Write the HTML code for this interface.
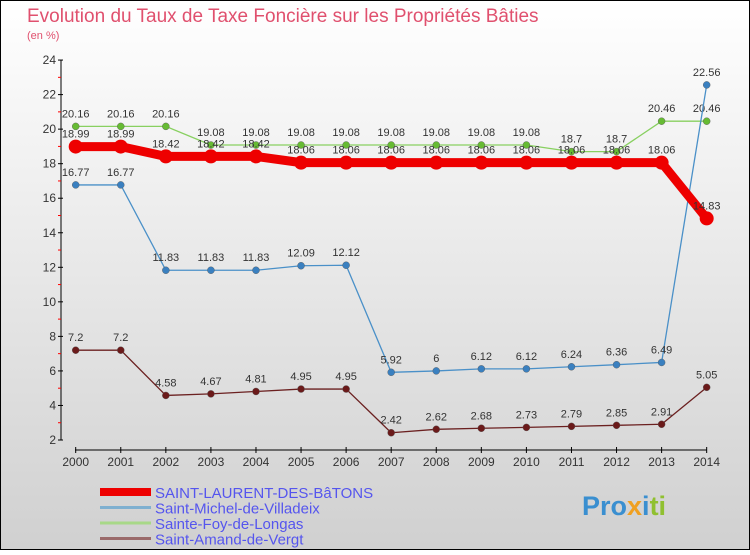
<!DOCTYPE html>
<html><head><meta charset="utf-8"><style>
body{margin:0}
#c{width:750px;height:550px;position:relative;font-family:"Liberation Sans",sans-serif}
</style></head><body>
<div id="c">
<svg id="s" width="750" height="550" xmlns="http://www.w3.org/2000/svg">
<defs><linearGradient id="bg" x1="0" y1="0" x2="0" y2="1"><stop offset="0" stop-color="#ffffff"/><stop offset="1" stop-color="#d0d0d0"/></linearGradient></defs>
<rect x="0.5" y="0.5" width="749" height="549" fill="url(#bg)" stroke="#000"/>
<text x="27" y="22" font-size="19" fill="#e0506e">Evolution du Taux de Taxe Foncière sur les Propriétés Bâties</text>
<text x="27" y="39" font-size="11" fill="#e0506e">(en %)</text>
<g id="axes"></g><g id="series"></g><g id="legend"></g>
<g font-size="27" font-weight="bold">
<text x="582" y="515"><tspan fill="#3a8fd0">Pro</tspan><tspan fill="#f0a020">x</tspan><tspan fill="#3a8fd0">i</tspan><tspan fill="#90c030">ti</tspan></text>
</g>
</svg></div>
<script>
const years=[2000,2001,2002,2003,2004,2005,2006,2007,2008,2009,2010,2011,2012,2013,2014];
const laurent=[18.99,18.99,18.42,18.42,18.42,18.06,18.06,18.06,18.06,18.06,18.06,18.06,18.06,18.06,14.83];
const michel=[16.77,16.77,11.83,11.83,11.83,12.09,12.12,5.92,6,6.12,6.12,6.24,6.36,6.49,22.56];
const foy=[20.16,20.16,20.16,19.08,19.08,19.08,19.08,19.08,19.08,19.08,19.08,18.7,18.7,20.46,20.46];
const amand=[7.2,7.2,4.58,4.67,4.81,4.95,4.95,2.42,2.62,2.68,2.73,2.79,2.85,2.91,5.05];
const yTicks=[2,4,6,8,10,12,14,16,18,20,22,24];
const names=["SAINT-LAURENT-DES-BâTONS","Saint-Michel-de-Villadeix","Sainte-Foy-de-Longas","Saint-Amand-de-Vergt"];
const NS="http://www.w3.org/2000/svg";
const X=i=>75.7+i*45.07;
const Y=v=>440-(v-2)*17.27;
function mk(p,t,a){const e=document.createElementNS(NS,t);for(const k in a)e.setAttribute(k,a[k]);p.appendChild(e);return e;}
const ax=document.getElementById('axes');
let l=mk(ax,'line',{x1:61,y1:60,x2:61,y2:440,stroke:'#000'});


l=mk(ax,'line',{x1:75,y1:450,x2:707,y2:450,stroke:'#000'});


yTicks.forEach(v=>{
  mk(ax,'line',{x1:58,y1:Y(v),x2:63,y2:Y(v),stroke:'#000'});
  if(v<24)mk(ax,'line',{x1:58,y1:Y(v+1),x2:61,y2:Y(v+1),stroke:'#f00'});
  const t=mk(ax,'text',{x:56,y:Y(v)+4,'font-size':12,'text-anchor':'end',fill:'#333'});
  t.textContent=v;
  
  
});
years.forEach((yr,i)=>{
  mk(ax,'line',{x1:X(i),y1:447,x2:X(i),y2:453,stroke:'#000'});
  const t=mk(ax,'text',{x:X(i),y:466,'font-size':12,'text-anchor':'middle',fill:'#333'});
  t.textContent=yr;
  
  
});
const sg=document.getElementById('series');
const defs=[[foy,'#88d060','#66bb33',1.3,3.5,'series-sainte-foy'],[michel,'#4a90c8','#3a80c0',1.3,3.5,'series-saint-michel'],[amand,'#6b2020','#6b1a1a',1.3,3.5,'series-saint-amand'],[laurent,'#ee0000','#ee0000',9,7,'series-saint-laurent']];
defs.forEach(([d,lc,pc,w,r,nm])=>{
  const g=mk(sg,'g',{});
  
  
  mk(g,'polyline',{points:d.map((v,i)=>X(i)+','+Y(v)).join(' '),fill:'none',stroke:lc,'stroke-width':w,'stroke-linejoin':'round'});
  d.forEach((v,i)=>{
    const c=mk(g,'circle',{cx:X(i),cy:Y(v),r:r,fill:pc,stroke:w>2?'none':'#555','stroke-width':0.4});
    
    
    const t=mk(g,'text',{x:X(i),y:Y(v)-9,'font-size':11,'text-anchor':'middle',fill:'#333'});
    t.textContent=v;
    
    
  });
});
const lg=document.getElementById('legend');
const lcol=['#ee0000','#7fb0d0','#a8d888','#9a6a6a'];const lw=[8,3,3,3];
names.forEach((n,i)=>{
  const y=492+i*15.5;
  const g=mk(lg,'g',{});
  
  
  mk(g,'line',{x1:100,y1:y,x2:151,y2:y,stroke:lcol[i],'stroke-width':lw[i]});
  const t=mk(g,'text',{x:155,y:y+6,'font-size':15,fill:'#5555ee'});
  t.textContent=n;
});
</script>
</body></html>
